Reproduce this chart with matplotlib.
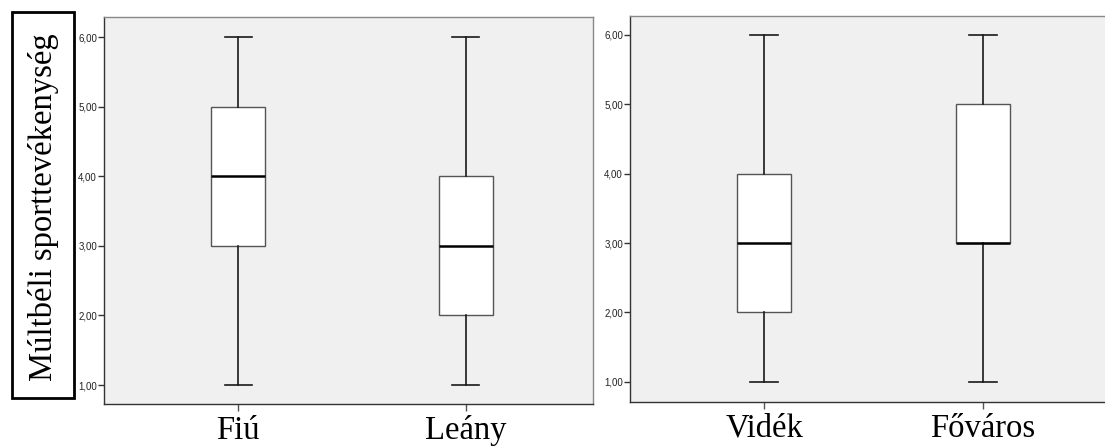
#!/usr/bin/env python
# -*- coding: utf-8 -*-

import matplotlib
matplotlib.use("Agg")
import matplotlib.pyplot as plt
from matplotlib.patches import Rectangle

# adatok (SPSS boxplot)
ylabel_text = "Múltbéli sporttevékenység"
yticks = [1, 2, 3, 4, 5, 6]

left_cats = ["Fiú", "Leány"]
left_min = [1, 1]
left_q1 = [3, 2]
left_med = [4, 3]
left_q3 = [5, 4]
left_max = [6, 6]

right_cats = ["Vidék", "Főváros"]
right_min = [1, 1]
right_q1 = [2, 3]
right_med = [3, 3]
right_q3 = [4, 5]
right_max = [6, 6]


def make_stats(mins, q1s, meds, q3s, maxs):
    stats = []
    for lo, q1, med, q3, hi in zip(mins, q1s, meds, q3s, maxs):
        stats.append({"whislo": lo, "q1": q1, "med": med, "q3": q3,
                      "whishi": hi, "fliers": []})
    return stats


def draw_panel(ax, cats, stats, width, ylim, xlim):
    ax.set_facecolor("#f0f0f0")
    ax.bxp(stats, positions=[1, 2], widths=width, patch_artist=True,
           showfliers=False,
           boxprops=dict(facecolor="white", edgecolor="#555555", linewidth=1.0),
           whiskerprops=dict(color="#1a1a1a", linewidth=1.2),
           capprops=dict(color="#1a1a1a", linewidth=1.2),
           medianprops=dict(color="black", linewidth=1.8))
    ax.set_xlim(*xlim)
    ax.set_ylim(*ylim)
    ax.set_yticks(yticks)
    ax.set_yticklabels(["%d,00" % v for v in yticks],
                       fontsize=7, family="Liberation Sans", color="#222222")
    ax.set_xticks([1, 2])
    ax.set_xticklabels(cats, fontsize=23.5, family="Liberation Serif")
    ax.tick_params(axis="y", direction="out", length=4, width=1, pad=1,
                   color="#333333")
    ax.tick_params(axis="x", direction="out", length=5, width=1, pad=3,
                   color="#555555")
    for side in ["top", "right"]:
        ax.spines[side].set_color("#888888")
    for side in ["left", "bottom"]:
        ax.spines[side].set_color("#333333")
    for s in ax.spines.values():
        s.set_linewidth(1.0)


W, H = 1105, 446
fig = plt.figure(figsize=(W / 100, H / 100), dpi=100)

ax1 = fig.add_axes([104 / W, (H - 404) / H, (593 - 104) / W, (404 - 17) / H])
draw_panel(ax1, left_cats,
           make_stats(left_min, left_q1, left_med, left_q3, left_max),
           0.238, (0.727, 6.29), (0.41, 2.56))

ax2 = fig.add_axes([630 / W, (H - 402) / H, (1112 - 630) / W, (402 - 16) / H])
draw_panel(ax2, right_cats,
           make_stats(right_min, right_q1, right_med, right_q3, right_max),
           0.25, (0.71, 6.27), (0.387, 2.59))

# y felirat keretben
fig.patches.append(Rectangle((12 / W, (H - 398) / H), (74 - 12) / W,
                             (398 - 12) / H, transform=fig.transFigure,
                             fill=False, edgecolor="black", linewidth=2))
fig.text(44 / W, (H - 207) / H, ylabel_text, rotation=90, ha="center",
         va="center", fontsize=23.5, family="Liberation Serif")

fig.savefig("out.png", dpi=100)
